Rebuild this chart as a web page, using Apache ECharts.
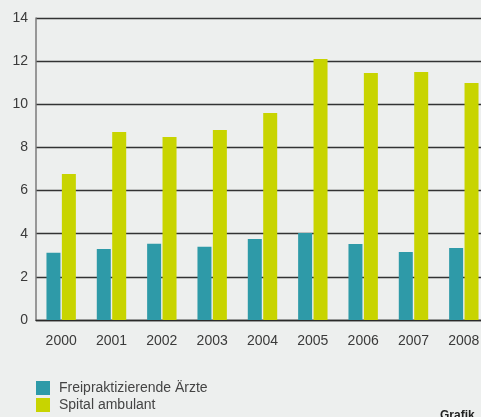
<!DOCTYPE html>
<html>
<head>
<meta charset="utf-8">
<style>
html,body{margin:0;padding:0;background:#edefee;overflow:hidden;width:481px;height:417px;}
#c{width:500px;height:417px;}
</style>
<script src="https://cdn.jsdelivr.net/npm/echarts@6/dist/echarts.min.js"></script>
</head>
<body>
<div id="c"></div>
<script>
const years = ['2000','2001','2002','2003','2004','2005','2006','2007','2008'];
const freipraktizierende = [3.12, 3.29, 3.54, 3.40, 3.76, 4.03, 3.52, 3.15, 3.34];
const spitalAmbulant = [6.77, 8.72, 8.48, 8.81, 9.60, 12.10, 11.45, 11.50, 10.99];
const yTicks = [0, 2, 4, 6, 8, 10, 12, 14];
const seriesNames = ['Freipraktizierende Ärzte', 'Spital ambulant'];

const chart = echarts.init(document.getElementById('c'), null, {renderer: 'canvas'});
const font = 'Liberation Sans, Arial, sans-serif';
chart.setOption({
  backgroundColor: '#edefee',
  animation: false,
  grid: {left: 36, top: 18, width: 453, height: 302, containLabel: false},
  xAxis: {
    type: 'category',
    data: years,
    boundaryGap: true,
    axisLine: {show: true, lineStyle: {color: '#2a2a2a', width: 1.3}},
    axisTick: {show: false},
    axisLabel: {color: '#3a3a3a', fontSize: 14, fontFamily: font, margin: 14}
  },
  yAxis: {
    type: 'value',
    min: yTicks[0],
    max: yTicks[yTicks.length - 1],
    interval: 2,
    axisLine: {show: true, lineStyle: {color: '#7a7a7a', width: 1.5}},
    axisTick: {show: false},
    splitLine: {show: true, lineStyle: {color: '#333333', width: 1.3}},
    axisLabel: {color: '#3a3a3a', fontSize: 14, fontFamily: font, margin: 8}
  },
  legend: {
    orient: 'vertical',
    left: 36,
    top: 381,
    padding: 0,
    itemWidth: 14,
    itemHeight: 14,
    itemGap: 3,
    icon: 'rect',
    textStyle: {color: '#444', fontSize: 14, fontFamily: font, padding: [0, 0, 0, 4]},
    data: seriesNames
  },
  graphic: [{
    type: 'text',
    left: 440,
    top: 410,
    style: {text: 'Grafik', fill: '#222', font: 'bold 12px ' + font}
  }],
  series: [
    {name: seriesNames[0], type: 'bar', data: freipraktizierende, barWidth: 14, barGap: '10%',
     itemStyle: {color: '#2e9aa8'}},
    {name: seriesNames[1], type: 'bar', data: spitalAmbulant, barWidth: 14, barGap: '10%',
     itemStyle: {color: '#c8d400'}}
  ]
});
</script>
</body>
</html>
